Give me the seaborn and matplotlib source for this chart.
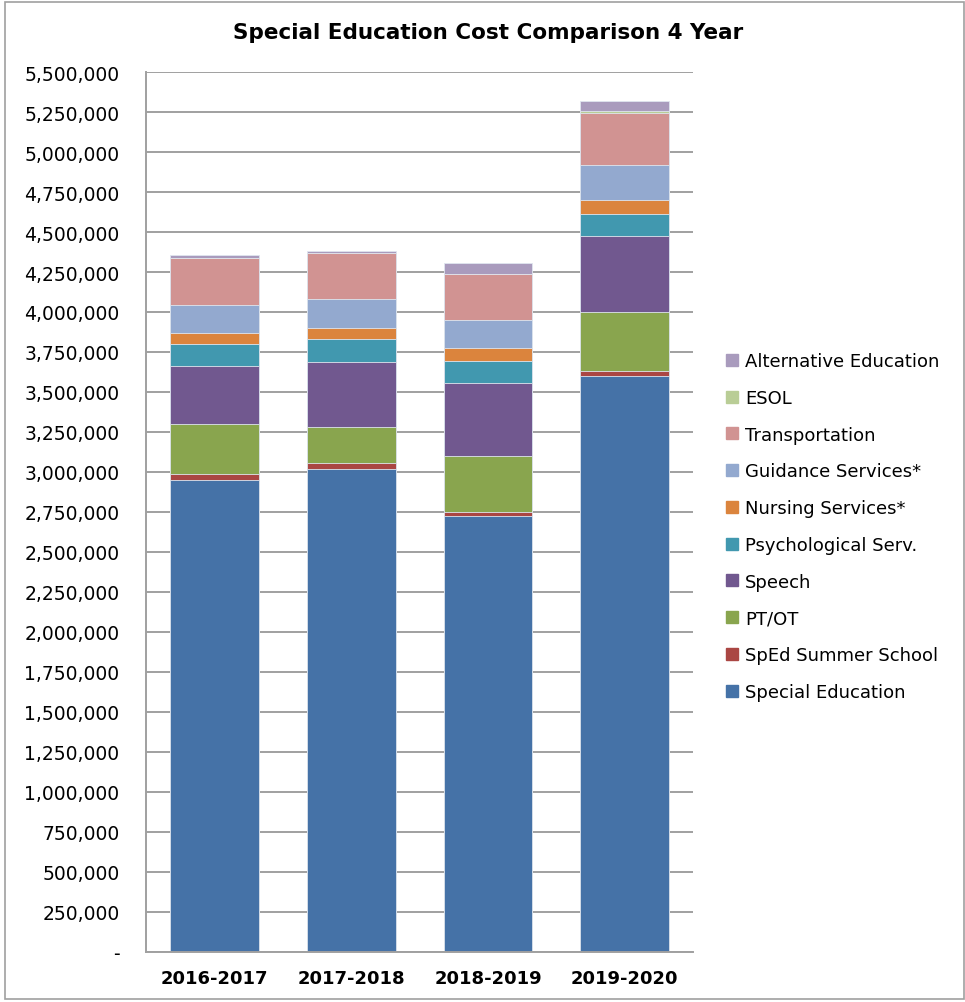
import numpy as np
import pandas as pd
import seaborn as sns
import matplotlib.pyplot as plt
from matplotlib.patches import Rectangle
from matplotlib.lines import Line2D
from matplotlib.ticker import FuncFormatter, MultipleLocator

sns.set_style("white")
plt.rcParams['font.family'] = ['DejaVu Sans']
plt.rcParams['text.color'] = 'black'
plt.rcParams['xtick.color'] = 'black'
plt.rcParams['ytick.color'] = 'black'

years = ["2016-2017", "2017-2018", "2018-2019", "2019-2020"]

# bottom to top
series = ["Special Education", "SpEd Summer School", "PT/OT", "Speech",
          "Psychological Serv.", "Nursing Services*", "Guidance Services*",
          "Transportation", "ESOL", "Alternative Education"]

special_ed     = [2950000, 3016700, 2723000, 3598000]
summer_school  = [37500, 39600, 29000, 33000]
pt_ot          = [314500, 227000, 350000, 367000]
speech         = [358400, 406300, 452000, 475000]
psych          = [137600, 139400, 141700, 137500]
nursing        = [72600, 71000, 77000, 89600]
guidance       = [171000, 183300, 175000, 216700]
transportation = [295600, 282700, 287000, 330000]
esol           = [0, 0, 4000, 9000]
alt_ed         = [18700, 15000, 66700, 62500]

colors = ["#4572A7", "#AA4643", "#89A54E", "#71588F", "#4198AF",
          "#DB843D", "#93A9CF", "#D19392", "#B9CD96", "#A99BBD"]

df = pd.DataFrame({
    "Special Education": special_ed,
    "SpEd Summer School": summer_school,
    "PT/OT": pt_ot,
    "Speech": speech,
    "Psychological Serv.": psych,
    "Nursing Services*": nursing,
    "Guidance Services*": guidance,
    "Transportation": transportation,
    "ESOL": esol,
    "Alternative Education": alt_ed,
}, index=years)
cum = df.cumsum(axis=1)

fig = plt.figure(figsize=(9.65, 10.03), dpi=100)
ax = fig.add_axes([0.1513, 0.0499, 0.567, 0.8773])

# stacked bars: draw tallest cumulative first, then overlay the lower ones
for name, c in reversed(list(zip(series, colors))):
    sns.barplot(x=years, y=cum[name].values, color=c, width=0.65,
                saturation=1, ax=ax, zorder=2, edgecolor="#dfe6ef", linewidth=0.6)

ax.set_ylim(0, 5500000)
ax.yaxis.set_major_locator(MultipleLocator(250000))
ax.yaxis.set_major_formatter(FuncFormatter(lambda v, p: "-" if v == 0 else f"{int(v):,}"))
ax.grid(axis="y", color="#a0a0a0", linewidth=1.4, zorder=0)
ax.set_axisbelow(True)
for s in ["top", "right"]:
    ax.spines[s].set_visible(False)
for s in ["left", "bottom"]:
    ax.spines[s].set_color("#a0a0a0")
    ax.spines[s].set_linewidth(1.4)
ax.tick_params(axis="y", labelsize=13.5, length=0, pad=19)
ax.tick_params(axis="x", labelsize=13, length=0, pad=12)
for lab in ax.get_xticklabels():
    lab.set_fontweight("bold")
ax.set_xlabel("")
ax.set_ylabel("")

fig.text(0.506, 0.967, "Special Education Cost Comparison 4 Year",
         ha="center", va="center", fontsize=15.5, fontweight="bold")

handles = [Line2D([0], [0], marker="s", linestyle="", markersize=9,
                  markerfacecolor=c, markeredgecolor=c)
           for c in reversed(colors)]
fig.legend(handles, list(reversed(series)), loc="center left",
           bbox_to_anchor=(0.742, 0.474), frameon=False, fontsize=13,
           handlelength=0.8, handletextpad=0.3, labelspacing=1.04,
           borderpad=0)

fig.patches.append(Rectangle((0.005, 0.003), 0.994, 0.994, transform=fig.transFigure,
                             fill=False, edgecolor="#a0a0a0", linewidth=1.2))

plt.savefig("out.png", dpi=100)
